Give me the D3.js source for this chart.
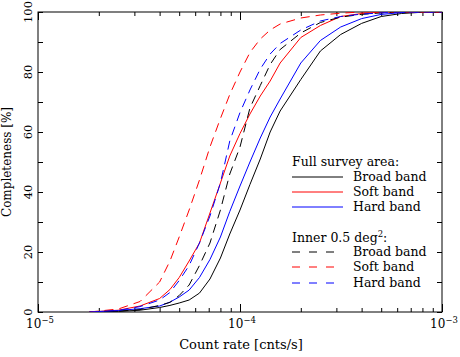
<!DOCTYPE html>
<html>
<head>
<meta charset="utf-8">
<script src="https://cdn.jsdelivr.net/npm/d3@7/dist/d3.min.js"></script>
<style>
  body { margin: 0; background: #fff; }
  text { font-family: "DejaVu Serif", serif; fill: #000; }
</style>
</head>
<body>
<svg id="chart" width="460" height="357"></svg>
<script>
const rates = [1.8e-5, 2.5e-5, 3.2e-5, 4.0e-5, 4.5e-5, 5.0e-5, 5.6e-5, 6.3e-5, 7.1e-5, 8.0e-5, 8.9e-5,
               1.0e-4, 1.12e-4, 1.26e-4, 1.41e-4, 1.58e-4, 2.0e-4, 2.5e-4, 3.15e-4, 4.0e-4, 5.0e-4, 6.3e-4, 7.9e-4, 1.0e-3];

// completeness [%], full survey area
const fullBroad = [0, 0.2, 0.6, 1.5, 2.2, 3, 4, 6.3, 11, 18, 26, 34, 42.5, 51, 60, 67, 77.5, 87, 92.5, 96.2, 98.5, 99.5, 99.9, 100];
const fullSoft  = [0, 0.6, 2, 4.5, 7.5, 11.5, 17, 23, 33, 43, 52, 59.5, 66, 72, 77, 83, 91.5, 95.5, 98.5, 99.5, 100, 100, 100, 100];
const fullHard  = [0, 0.5, 1.1, 2.0, 3.3, 5, 7.3, 11.5, 17.5, 25, 33.5, 42, 50, 58, 65, 71, 83, 90.5, 95, 97.8, 99.2, 99.8, 100, 100];

// completeness [%], inner 0.5 deg^2
const innerBroad = [0, 0.3, 0.8, 2.2, 3.2, 5.5, 9, 15.5, 23, 34, 46, 55, 68, 75.5, 82.5, 87.5, 93, 96.5, 98.3, 99.2, 99.7, 100, 100, 100];
const innerSoft  = [0, 1, 3.5, 10, 17, 25, 34, 44, 55, 64.5, 72.5, 80, 86.5, 91, 94, 96, 98, 99, 99.6, 100, 100, 100, 100, 100];
const innerHard  = [0, 0.5, 1.8, 4, 6.5, 10.5, 15.5, 23, 32, 43, 57, 66.5, 74, 81, 86, 89.5, 94, 97, 98.5, 99.3, 99.7, 100, 100, 100];

const yTicks = [0, 10, 20, 30, 40, 50, 60, 70, 80, 90, 100];
const yLabels = [0, 20, 40, 60, 80, 100];
const xMajor = [1e-5, 1e-4, 1e-3];
const bandNames = ["Broad band", "Soft band", "Hard band"];

const margin = { top: 12, right: 18, bottom: 45, left: 38 };
const width = 460 - margin.left - margin.right;
const height = 357 - margin.top - margin.bottom;

const svg = d3.select("#chart");
const g = svg.append("g").attr("transform", `translate(${margin.left},${margin.top})`);

const x = d3.scaleLog().domain([1e-5, 1e-3]).range([0, width]);
const y = d3.scaleLinear().domain([0, 100]).range([height, 0]);

// minor ticks 2..9 in each decade
let xMinor = [];
[1e-5, 1e-4].forEach(d => { for (let k = 2; k <= 9; k++) xMinor.push(d * k); });

const styleAxis = sel => {
  sel.select(".domain").remove();
  sel.selectAll("line").attr("stroke", "#000").attr("stroke-width", 1);
};

// bottom & top ticks, pointing inward
g.append("g").attr("transform", `translate(0,${height})`)
  .call(d3.axisBottom(x).tickValues(xMinor).tickSize(-4).tickFormat("")).call(styleAxis);
g.append("g").attr("transform", `translate(0,${height})`)
  .call(d3.axisBottom(x).tickValues(xMajor).tickSize(-8).tickFormat(""))
  .call(styleAxis);
g.append("g")
  .call(d3.axisTop(x).tickValues(xMinor).tickSize(-4).tickFormat("")).call(styleAxis);
g.append("g")
  .call(d3.axisTop(x).tickValues(xMajor).tickSize(-8).tickFormat("")).call(styleAxis);

// x tick labels 10^n
g.append("g").selectAll("text").data(xMajor).enter().append("text")
  .attr("x", d => x(d) + 2)
  .attr("y", height + 16)
  .attr("text-anchor", "middle")
  .style("font-size", "12px")
  .each(function(d) {
    const t = d3.select(this);
    t.append("tspan").text("10");
    t.append("tspan").attr("dy", -5).style("font-size", "8.5px").text("\u2212" + Math.round(-Math.log10(d)));
  });

// left & right ticks
g.append("g")
  .call(d3.axisLeft(y).tickValues(yTicks).tickSize(-5).tickFormat(""))
  .call(styleAxis);
g.append("g").attr("transform", `translate(${width},0)`)
  .call(d3.axisRight(y).tickValues(yTicks).tickSize(-5).tickFormat(""))
  .call(styleAxis);

// y tick labels, rotated
g.append("g").selectAll("text").data(yLabels).enter().append("text")
  .attr("transform", d => `translate(-6,${y(d)}) rotate(-90)`)
  .attr("text-anchor", "middle")
  .style("font-size", "11.5px")
  .text(d => d);

// frame
g.append("rect").attr("width", width).attr("height", height)
  .attr("fill", "none").attr("stroke", "#000").attr("stroke-width", 1);

// curves
const series = [
  { vals: fullBroad, color: "#000000", dash: null },
  { vals: fullSoft, color: "#ff0000", dash: null },
  { vals: fullHard, color: "#0000ff", dash: null },
  { vals: innerBroad, color: "#000000", dash: "9,6" },
  { vals: innerSoft, color: "#ff0000", dash: "9,6" },
  { vals: innerHard, color: "#0000ff", dash: "9,6" }
];

g.append("clipPath").attr("id", "clip").append("rect").attr("width", width).attr("height", height);

const line = d3.line()
  .x((d, i) => x(rates[i]))
  .y(d => y(d));

g.append("g").attr("clip-path", "url(#clip)")
  .selectAll("path").data(series).enter().append("path")
  .attr("d", d => line(d.vals))
  .attr("fill", "none")
  .attr("stroke", d => d.color)
  .attr("stroke-width", 1)
  .attr("stroke-dasharray", d => d.dash);

// axis titles
svg.append("text")
  .attr("x", margin.left + width / 2 + 1)
  .attr("y", 349)
  .attr("text-anchor", "middle")
  .style("font-size", "13px")
  .text("Count rate [cnts/s]");

svg.append("text")
  .attr("transform", `translate(11,${margin.top + height / 2}) rotate(-90)`)
  .attr("text-anchor", "middle")
  .style("font-size", "12px")
  .text("Completeness [%]");

// legend
const leg = svg.append("g").attr("transform", "translate(292,0)");
const legFont = "12.5px";

leg.append("text").attr("x", 0).attr("y", 166).style("font-size", legFont).text("Full survey area:");
const inner = leg.append("text").attr("x", 0).attr("y", 242).style("font-size", legFont);
inner.append("tspan").text("Inner 0.5 deg");
inner.append("tspan").attr("dy", -5).style("font-size", "8.5px").text("2");
inner.append("tspan").attr("dy", 5).text(":");

const legY = [177, 192, 207, 252, 267, 283];
const legRows = series.map((s, i) => ({ s: s, name: bandNames[i % 3], ly: legY[i] }));

leg.selectAll("line.key").data(legRows).enter().append("line")
  .attr("class", "key")
  .attr("x1", 0).attr("x2", d => d.s.dash ? 44 : 51)
  .attr("y1", d => d.ly).attr("y2", d => d.ly)
  .attr("stroke", d => d.s.color)
  .attr("stroke-width", 1)
  .attr("stroke-dasharray", d => d.s.dash ? "8,9" : null);

leg.selectAll("text.key").data(legRows).enter().append("text")
  .attr("class", "key")
  .attr("x", 61)
  .attr("y", d => d.ly + 4)
  .style("font-size", legFont)
  .text(d => d.name);
</script>
</body>
</html>
